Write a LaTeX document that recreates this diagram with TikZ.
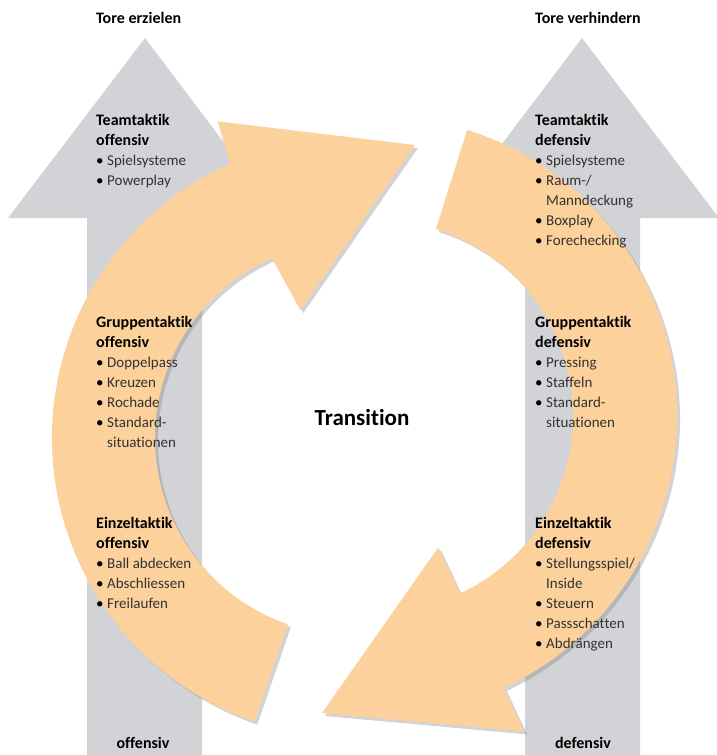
\documentclass[tikz,border=0pt]{standalone}
\usepackage{fontspec}
\setmainfont{Carlito}[Ligatures=NoCommon]
\usetikzlibrary{shadows}
\definecolor{greyarrow}{RGB}{209,211,214}
\definecolor{peach}{RGB}{252,209,156}
\definecolor{bodytext}{RGB}{50,50,50}
\newcommand{\blhead}[1]{{\fontsize{16}{20}\selectfont\bfseries\color{black}#1}}
\newcommand{\blitem}[1]{\makebox[11pt][l]{\color{black}\textbullet}#1}
\newcommand{\blcont}[1]{\hspace*{11pt}#1}
\tikzstyle{uparrow} = [fill=greyarrow, draw=none]
\tikzstyle{turnband} = [fill=peach, draw=none, drop shadow={shadow xshift=3pt, shadow yshift=-3pt, opacity=0.35}]
\tikzstyle{block} = [anchor=north west, inner sep=0pt, align=left, font=\fontsize{15}{20}\selectfont, text=bodytext]
\tikzstyle{goal} = [inner sep=0pt, font=\fontsize{16}{20}\selectfont\bfseries, text=black]
\tikzstyle{hub} = [inner sep=0pt, font=\fontsize{23}{28}\selectfont\bfseries, text=black]

\begin{document}
\begin{tikzpicture}[x=1pt, y=1pt]
\useasboundingbox (0,0) rectangle (717,-755);
% grey arrows
\fill [uparrow] (145,-38) -- (281,-218) -- (202,-218) -- (202,-755) -- (87,-755) -- (87,-218) -- (8,-218) -- cycle;
\fill [uparrow] (582,-38) -- (719,-218) -- (640,-218) -- (640,-755) -- (525,-755) -- (525,-218) -- (446,-218) -- cycle;
% orange arcs
\begin{scope}[shift={(352,-438)}]
\fill [turnband] (251:300) arc[start angle=251, end angle=114, radius=300] -- (113:344) -- (63,293) -- (112:138) -- (114:197) arc[start angle=114, end angle=251, radius=197] -- cycle;
\end{scope}
\begin{scope}[shift={(377,-416)}]
\fill [turnband] (72.5:300) arc[start angle=72.5, end angle=-65, radius=300] -- (-65:348) -- (-55,-297) -- (-65:145) -- (-65:196) arc[start angle=-65, end angle=72.5, radius=196] -- cycle;
\end{scope}
% texts
\node (toreoff) [goal, anchor=west] at (96,-18) {Tore erzielen};
\node (toredef) [goal, anchor=west] at (535,-18) {Tore verhindern};
\node (teamoff) [block] at (96,-111) {\strut\blhead{Teamtaktik}\\\blhead{offensiv}\\\blitem{Spielsysteme}\\\blitem{Powerplay}};
\node (gruppoff) [block] at (96,-313) {\strut\blhead{Gruppentaktik}\\\blhead{offensiv}\\\blitem{Doppelpass}\\\blitem{Kreuzen}\\\blitem{Rochade}\\\blitem{Standard-}\\\blcont{situationen}};
\node (einzoff) [block] at (96,-514) {\strut\blhead{Einzeltaktik}\\\blhead{offensiv}\\\blitem{Ball abdecken}\\\blitem{Abschliessen}\\\blitem{Freilaufen}};
\node (teamdef) [block] at (535,-111) {\strut\blhead{Teamtaktik}\\\blhead{defensiv}\\\blitem{Spielsysteme}\\\blitem{Raum-/}\\\blcont{Manndeckung}\\\blitem{Boxplay}\\\blitem{Forechecking}};
\node (gruppdef) [block] at (535,-313) {\strut\blhead{Gruppentaktik}\\\blhead{defensiv}\\\blitem{Pressing}\\\blitem{Staffeln}\\\blitem{Standard-}\\\blcont{situationen}};
\node (einzdef) [block] at (535,-514) {\strut\blhead{Einzeltaktik}\\\blhead{defensiv}\\\blitem{Stellungsspiel/}\\\blcont{Inside}\\\blitem{Steuern}\\\blitem{Passschatten}\\\blitem{Abdrängen}};
\node (trans) [hub] at (362,-418) {Transition};
\node (off) [goal] at (143,-743) {offensiv};
\node (def) [goal] at (583,-743) {defensiv};
\end{tikzpicture}
\end{document}
